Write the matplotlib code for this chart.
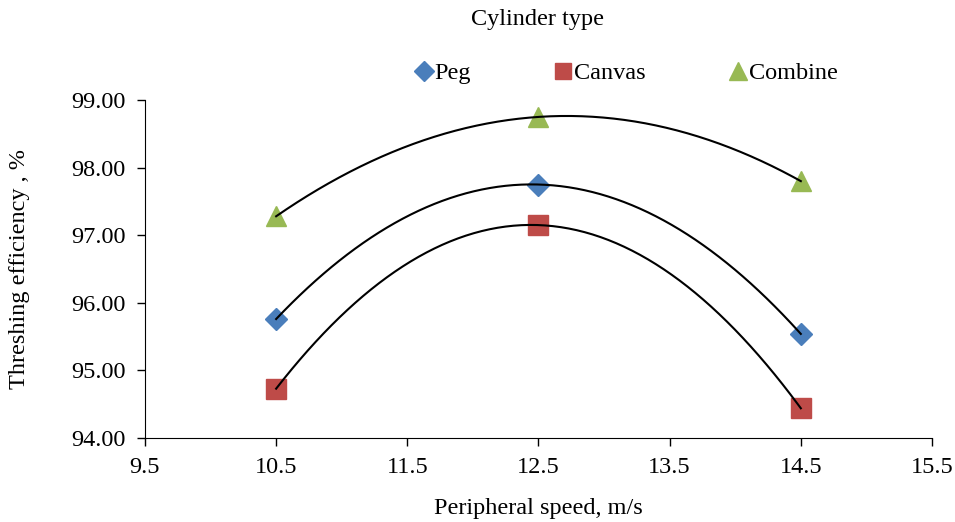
import numpy as np
import matplotlib.pyplot as plt

speed = [10.5, 12.5, 14.5]
peg = [95.76, 97.75, 95.54]
canvas = [94.73, 97.15, 94.44]
combine = [97.28, 98.75, 97.80]

xticks = [9.5, 10.5, 11.5, 12.5, 13.5, 14.5, 15.5]
yticks = [94, 95, 96, 97, 98, 99]

plt.rcParams['font.family'] = ['Liberation Serif', 'DejaVu Serif']
plt.rcParams['font.size'] = 17.5

fig = plt.figure(figsize=(9.55, 5.22), dpi=100)
ax = fig.add_axes([0.1518, 0.1609, 0.8241, 0.6475])

series = [
    ('Peg', peg, 'D', '#4a7ebb', 11.5),
    ('Canvas', canvas, 's', '#be4b48', 14),
    ('Combine', combine, '^', '#98b954', 14.5),
]

xs = np.linspace(speed[0], speed[-1], 200)
for name, vals, mk, col, ms in series:
    ax.plot(speed, vals, linestyle='none', marker=mk, color=col, markersize=ms,
            label=name, zorder=2)
    # 2nd order polynomial trend line
    c = np.polyfit(speed, vals, 2)
    ax.plot(xs, np.polyval(c, xs), color='black', linewidth=1.5, zorder=3)

ax.set_xlim(9.5, 15.5)
ax.set_ylim(94, 99)
ax.set_xticks(xticks)
ax.set_xticklabels([f'{v:.1f}' for v in xticks])
ax.set_yticks(yticks)
ax.set_yticklabels([f'{v:.2f}' for v in yticks])
ax.spines['top'].set_visible(False)
ax.spines['right'].set_visible(False)
ax.tick_params(direction='out', length=6, width=1, pad=8)
ax.set_xlabel('Peripheral speed, m/s', va='center')
ax.xaxis.set_label_coords(0.5, (438 - 508) / 338)
ax.set_ylabel('Threshing efficiency , %', va='center')
ax.yaxis.set_label_coords((20 - 145) / 787, 0.5)

fig.text(537 / 955, 1 - 20 / 522, 'Cylinder type', ha='center', va='center')
ax.legend(ncol=3, loc='center', bbox_to_anchor=(626 / 955, 1 - 73 / 522),
          bbox_transform=fig.transFigure, frameon=False, handletextpad=0.05,
          columnspacing=3.4, handlelength=0.8, markerscale=0.85,
          borderpad=0)

fig.savefig('out.png', dpi=100)
